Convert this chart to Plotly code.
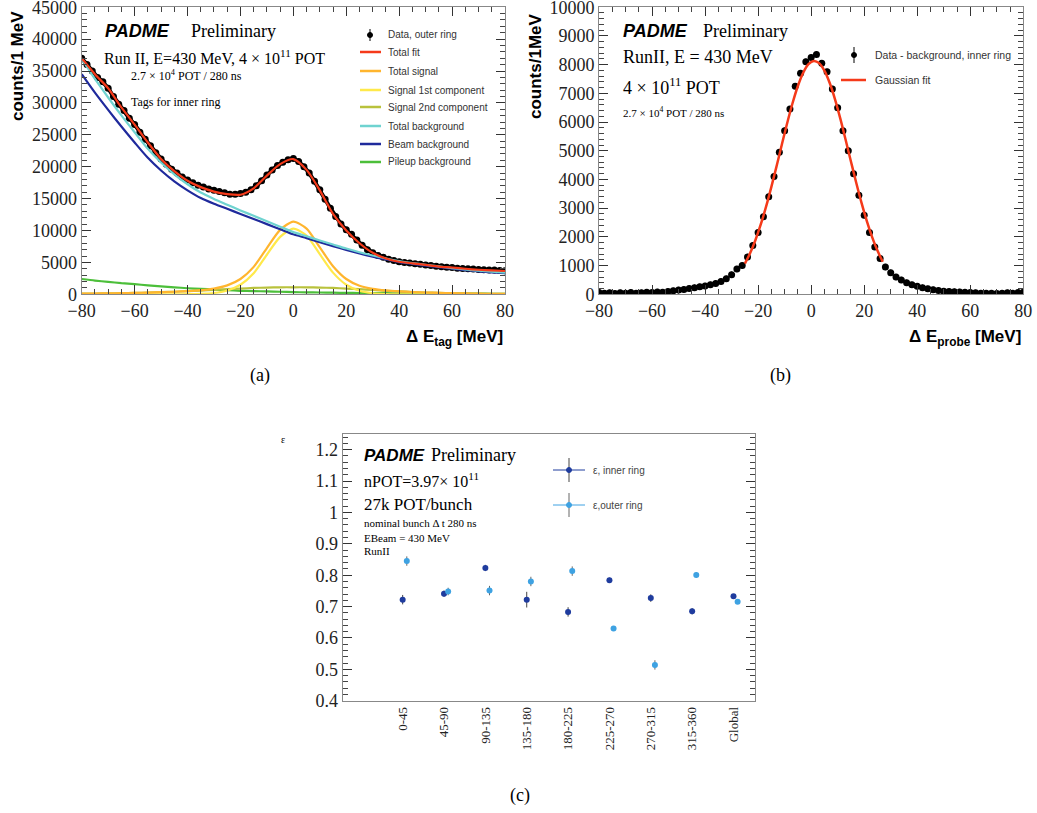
import plotly.graph_objects as go

W, H = 1037, 813

# ---------------- Panel (a) data ----------------
a_x_data = list(range(-80, 81, 2))
a_data = [37000, 36000, 35000, 34000, 33300, 32300, 31000, 29800, 28800, 27600,
          26600, 25400, 24300, 23300, 22200, 21200, 20400, 19600, 19000, 18400,
          17900, 17500, 17100, 16800, 16500, 16300, 16100, 15900, 15700, 15700,
          15800, 16000, 16400, 17000, 17800, 18700, 19500, 20200, 20700, 21100,
          21300, 20800, 20000, 19000, 17700, 16400, 14900, 13500, 12200, 11000,
          10100, 9400, 8500, 7700, 7000, 6500, 6100, 5800, 5500, 5300,
          5100, 5000, 4900, 4800, 4700, 4600, 4500, 4400, 4300, 4250,
          4200, 4100, 4050, 4000, 3950, 3900, 3850, 3800, 3800, 3750,
          3700]
a_x_fit = list(range(-80, 81, 5))
a_total_fit = [37000, 34500, 32300, 29300, 26600, 23800, 21200, 19300, 17800, 16800,
               16100, 15700, 15600, 16600, 18600, 20400, 21200, 19500, 16300, 12600,
               10000, 8000, 6500, 5600, 5100, 4850, 4600, 4350, 4200, 4000,
               3850, 3750, 3650]
a_total_signal = [100, 120, 150, 180, 220, 270, 330, 400, 500, 650,
                  900, 1400, 2400, 4300, 7250, 10100, 11400, 10300, 7350, 4400,
                  2400, 1350, 850, 600, 460, 360, 280, 220, 170, 130,
                  100, 80, 70]
a_sig1 = [0, 0, 0, 0, 0, 0, 0, 0, 20, 70,
          200, 600, 1500, 3300, 6200, 9000, 10300, 9200, 6300, 3400,
          1500, 550, 170, 50, 10, 0, 0, 0, 0, 0,
          0, 0, 0]
a_sig2 = [100, 120, 150, 180, 220, 270, 330, 400, 480, 580,
          700, 800, 900, 1000, 1050, 1100, 1100, 1100, 1050, 1000,
          900, 800, 680, 550, 450, 360, 280, 220, 170, 130,
          100, 80, 70]
a_total_bkg = [36900, 33750, 30850, 28050, 25400, 22800, 20650, 18800, 17250, 15950,
               14950, 14050, 13150, 12300, 11450, 10600, 9750, 9100, 8430, 7800,
               7170, 6600, 6080, 5620, 5200, 4890, 4630, 4370, 4110, 3900,
               3700, 3540, 3390]
a_beam_bkg = [34500, 31600, 28900, 26300, 23800, 21400, 19400, 17700, 16300, 15100,
              14200, 13400, 12600, 11800, 11000, 10200, 9400, 8800, 8150, 7550,
              6950, 6400, 5900, 5450, 5050, 4750, 4500, 4250, 4000, 3800,
              3600, 3450, 3300]
a_pileup_bkg = [2400, 2150, 1950, 1750, 1600, 1400, 1250, 1100, 950, 850,
                750, 650, 550, 500, 450, 400, 350, 300, 280, 250,
                220, 200, 180, 170, 150, 140, 130, 120, 110, 100,
                100, 90, 90]

# ---------------- Panel (b) data ----------------
b_x_data = list(range(-80, 81, 2))
b_data = [60, 40, 50, 30, 50, 40, 60, 40, 50, 70,
          60, 80, 70, 100, 120, 150, 170, 200, 230, 260,
          290, 330, 380, 450, 540, 680, 880, 1000, 1300, 1700,
          2150, 2700, 3400, 4100, 4950, 5700, 6450, 7250, 7700, 8100,
          8250, 8350, 8050, 7750, 7150, 6500, 5700, 5000, 4200, 3450,
          2750, 2150, 1650, 1250, 950, 750, 600, 500, 400, 330,
          280, 230, 190, 160, 130, 110, 100, 90, 80, 70,
          60, 50, 40, 40, 40, 30, 40, 50, 40, 60,
          70]
b_err = 110
b_x_fit = list(range(-25, 28, 2))
b_fit = [1067, 1437, 1892, 2432, 3051, 3741, 4477, 5234, 5977, 6664,
         7256, 7717, 8014, 8130, 8053, 7790, 7360, 6792, 6119, 5385,
         4628, 3885, 3184, 2549, 1993, 1522, 1134]

# ---------------- Panel (c) data ----------------
c_labels = ["0-45", "45-90", "90-135", "135-180", "180-225", "225-270", "270-315", "315-360", "Global"]
c_inner = [0.722, 0.741, 0.823, 0.722, 0.683, 0.784, 0.727, 0.685, 0.733]
c_inner_err = [0.015, 0.010, 0.010, 0.025, 0.015, 0.008, 0.012, 0.010, 0.005]
c_outer = [0.845, 0.748, 0.751, 0.780, 0.813, 0.630, 0.514, 0.801, 0.715]
c_outer_err = [0.015, 0.012, 0.015, 0.015, 0.015, 0.006, 0.015, 0.008, 0.005]

# ---------------- styles ----------------
C_RED = "#f53a1a"
C_ORANGE = "#ffb52e"
C_YELLOW = "#ffe94a"
C_OLIVE = "#b9c23c"
C_CYAN = "#6fd3d0"
C_BEAM = "#1f2a9c"
C_GREEN = "#4cbf3a"
C_INNER = "#1f3c9e"
C_OUTER = "#3ea2e2"
SERIF = "Liberation Serif"
SANS = "Liberation Sans"


def px(x):
    return x / W


def py(y):
    return 1 - y / H


fig = go.Figure()

# Panel (a) traces
fig.add_trace(go.Scatter(x=a_x_data, y=a_data, mode="lines+markers",
                         line=dict(color="black", width=4),
                         marker=dict(color="black", size=7), xaxis="x", yaxis="y"))
for yv, col in [(a_pileup_bkg, C_GREEN), (a_sig2, C_OLIVE), (a_sig1, C_YELLOW),
                (a_total_signal, C_ORANGE), (a_beam_bkg, C_BEAM),
                (a_total_bkg, C_CYAN), (a_total_fit, C_RED)]:
    fig.add_trace(go.Scatter(x=a_x_fit, y=yv, mode="lines",
                             line=dict(color=col, width=2.2, shape="spline", smoothing=0.7),
                             xaxis="x", yaxis="y"))

# Panel (b) traces
fig.add_trace(go.Scatter(x=b_x_data, y=b_data, mode="markers",
                         marker=dict(color="black", size=7),
                         error_y=dict(type="constant", value=b_err, color="black", thickness=1, width=0),
                         xaxis="x2", yaxis="y2"))
fig.add_trace(go.Scatter(x=b_x_fit, y=b_fit, mode="lines",
                         line=dict(color=C_RED, width=2.5, shape="spline"),
                         xaxis="x2", yaxis="y2"))

# Panel (c) traces
c_idx = list(range(len(c_labels)))
fig.add_trace(go.Scatter(x=c_idx, y=c_inner, mode="markers",
                         marker=dict(color=C_INNER, size=6),
                         error_y=dict(type="data", array=c_inner_err, color="#444", thickness=1, width=0),
                         xaxis="x3", yaxis="y3"))
fig.add_trace(go.Scatter(x=[i + 0.1 for i in c_idx], y=c_outer, mode="markers",
                         marker=dict(color=C_OUTER, size=6),
                         error_y=dict(type="data", array=c_outer_err, color="#666", thickness=1, width=0),
                         xaxis="x3", yaxis="y3"))


def axis(domain, rng, dtick, mdtick, anchor, size=18, ticks=True):
    d = dict(domain=domain, range=rng, anchor=anchor, showline=True, linecolor="#888",
             linewidth=1, mirror="ticks" if ticks else True, showgrid=False, zeroline=False,
             automargin=False, ticklabeloverflow="allow",
             tickfont=dict(family=SERIF, size=size, color="#222"), fixedrange=True)
    if ticks:
        d.update(ticks="inside", ticklen=9, tickcolor="#333", tickwidth=1, dtick=dtick, tick0=0,
                 minor=dict(ticks="inside", ticklen=5, tickcolor="#444", dtick=mdtick, showgrid=False))
    return d


ya = [py(294.3), py(7.2)]
fig.update_layout(
    width=W, height=H, margin=dict(l=0, r=0, t=0, b=0, autoexpand=False),
    paper_bgcolor="white", plot_bgcolor="white", showlegend=False,
    xaxis=axis([px(81.7), px(505)], [-80, 80.0001], 20, 5, "y"),
    yaxis=dict(axis(ya, [0, 45000.01], 5000, 1000, "x"), tickformat="d"),
    xaxis2=axis([px(599), px(1023.3)], [-80, 80.0001], 20, 5, "y2"),
    yaxis2=dict(axis(ya, [0, 10000.01], 1000, 200, "x2"), tickformat="d"),
    xaxis3=dict(axis([px(342.7), px(755)], [-1.45, 8.52], 1, 1, "y3", size=13, ticks=False),
                tickmode="array", tickvals=c_idx, ticktext=c_labels, tickangle=-90, ticks=""),
    yaxis3=axis([py(700.7), py(434)], [0.4, 1.25], 0.1, 0.02, "x3", size=18),
)

ann = []


def text(x, y, s, size, family=SERIF, xanchor="left", yanchor="middle", angle=0, color="black"):
    ann.append(dict(x=px(x), y=py(y), xref="paper", yref="paper", text=s, showarrow=False,
                    xanchor=xanchor, yanchor=yanchor, textangle=angle,
                    font=dict(family=family, size=size, color=color)))


# Panel (a) texts
text(103, 31, "<b><i>PADME</i></b>", 18, SANS)
text(189, 31, "Preliminary", 18)
text(102, 57, "Run II, E=430 MeV, 4 × 10<sup>11</sup> POT", 16)
text(129, 76, "2.7 × 10<sup>4</sup> POT / 280 ns", 12)
text(129, 102, "Tags for inner ring", 12)
text(18, 9, "<b>counts/1 MeV</b>", 17, SANS, xanchor="center", yanchor="top", angle=-90)
text(505, 338, "<b>Δ E<sub>tag</sub> [MeV]</b>", 17, SANS, xanchor="right")

# Panel (a) legend
shapes = []
leg_a = [("Data, outer ring", None, 35), ("Total fit", C_RED, 52), ("Total signal", C_ORANGE, 71),
         ("Signal 1st component", C_YELLOW, 90), ("Signal 2nd component", C_OLIVE, 107),
         ("Total background", C_CYAN, 126), ("Beam background", C_BEAM, 144),
         ("Pileup background", C_GREEN, 162)]
for label, col, y in leg_a:
    if col is None:
        shapes.append(dict(type="line", xref="paper", yref="paper", x0=px(370), x1=px(370),
                           y0=py(y - 6), y1=py(y + 6), line=dict(color="black", width=1)))
        shapes.append(dict(type="circle", xref="paper", yref="paper", x0=px(367.5), x1=px(372.5),
                           y0=py(y + 2.5), y1=py(y - 2.5), fillcolor="black", line=dict(color="black", width=1)))
    else:
        shapes.append(dict(type="line", xref="paper", yref="paper", x0=px(360), x1=px(381),
                           y0=py(y), y1=py(y), line=dict(color=col, width=2.5)))
    text(386, y, label, 10, SANS, color="#333")

# Panel (b) texts
text(621, 31, "<b><i>PADME</i></b>", 18, SANS)
text(701, 31, "Preliminary", 18)
text(621, 57, "RunII, E = 430 MeV", 18)
text(621, 86, "4 × 10<sup>11</sup> POT", 18)
text(621, 112, "2.7 × 10<sup>4</sup> POT / 280 ns", 11)
text(535, 11, "<b>counts/1MeV</b>", 17, SANS, xanchor="center", yanchor="top", angle=-90)
text(1023, 338, "<b>Δ E<sub>probe</sub> [MeV]</b>", 17, SANS, xanchor="right")

# Panel (b) legend
shapes.append(dict(type="line", xref="paper", yref="paper", x0=px(854), x1=px(854),
                   y0=py(47), y1=py(63), line=dict(color="black", width=1)))
shapes.append(dict(type="circle", xref="paper", yref="paper", x0=px(851.5), x1=px(856.5),
                   y0=py(57.5), y1=py(52.5), fillcolor="black", line=dict(color="black", width=1)))
text(873, 55, "Data - background, inner ring", 10.5, SANS, color="#333")
shapes.append(dict(type="line", xref="paper", yref="paper", x0=px(841), x1=px(866),
                   y0=py(80), y1=py(80), line=dict(color=C_RED, width=2.5)))
text(873, 80, "Gaussian fit", 10.5, SANS, color="#333")

# Panel (c) texts
text(362, 455, "<b><i>PADME</i></b>", 17, SANS)
text(429, 455, "Preliminary", 18)
text(362, 480, "nPOT=3.97× 10<sup>11</sup>", 16)
text(362, 504, "27k POT/bunch", 17)
text(362, 523, "nominal bunch Δ t 280 ns", 11)
text(362, 538, "EBeam = 430 MeV", 11)
text(362, 551, "RunII", 11)
text(283, 439, "ε", 10, SERIF, xanchor="center")

# Panel (c) legend
for label, col, y, ecol in [("ε, inner ring", C_INNER, 470, "#444"), ("ε,outer ring", C_OUTER, 505, "#666")]:
    shapes.append(dict(type="line", xref="paper", yref="paper", x0=px(553), x1=px(585),
                       y0=py(y), y1=py(y), line=dict(color=col, width=1)))
    shapes.append(dict(type="line", xref="paper", yref="paper", x0=px(569), x1=px(569),
                       y0=py(y - 12), y1=py(y + 12), line=dict(color=ecol, width=1)))
    shapes.append(dict(type="circle", xref="paper", yref="paper", x0=px(566.5), x1=px(571.5),
                       y0=py(y + 2.5), y1=py(y - 2.5), fillcolor=col, line=dict(color=col, width=1)))
    text(591, y, label, 10, SANS, color="#444")

# Captions
text(260, 375, "(a)", 18, SERIF, xanchor="center")
text(780, 375, "(b)", 18, SERIF, xanchor="center")
text(520, 795, "(c)", 18, SERIF, xanchor="center")

fig.update_layout(annotations=ann, shapes=shapes)
fig.write_html("out.html", config={"displayModeBar": False, "staticPlot": True},
               post_script="document.body.style.margin='0px';")
